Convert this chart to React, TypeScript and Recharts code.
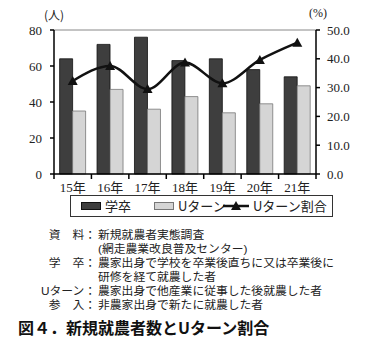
import React from 'react';
import {
  ComposedChart,
  Bar,
  Line,
  XAxis,
  YAxis,
  ReferenceLine,
} from 'recharts';

const years = ['15年', '16年', '17年', '18年', '19年', '20年', '21年'];
const gakusotsu = [64, 72, 76, 63, 64, 58, 54];
const uturn = [35, 47, 36, 43, 34, 39, 49];
const uturnRatio = [32.3, 37.5, 29.5, 38.7, 31.5, 39.6, 45.6];
const leftTicks = [0, 20, 40, 60, 80];
const rightTicks = [0, 10, 20, 30, 40, 50];

const notes = [
  { label: '資\u3000料：', text: '新規就農者実態調査' },
  { label: '', text: '(網走農業改良普及センター)' },
  { label: '学\u3000卒：', text: '農家出身で学校を卒業後直ちに又は卒業後に' },
  { label: '', text: '研修を経て就農した者' },
  { label: 'Uターン：', text: '農家出身で他産業に従事した後就農した者' },
  { label: '参\u3000入：', text: '非農家出身で新たに就農した者' },
];

const title = '図４．新規就農者数とUターン割合';

const data = years.map((year, i) => ({
  year,
  gakusotsu: gakusotsu[i],
  uturn: uturn[i],
  ratio: uturnRatio[i],
}));

const serif = '"Liberation Serif", "Noto Sans CJK JP", serif';
const jp = '"Noto Sans CJK JP", sans-serif';
// latin first so the notes keep a short line box, kanji fall back to Noto CJK
const notesFont = '"Liberation Sans", "Noto Sans CJK JP", sans-serif';

const Triangle = (props: any) => {
  const { cx, cy } = props;
  if (cx == null || cy == null) return null;
  return (
    <polygon
      points={`${cx},${cy - 5} ${cx - 5},${cy + 4} ${cx + 5},${cy + 4}`}
      fill="#111"
    />
  );
};

// ticks sit between the categories, like the original
const YearTick = (props: any) => {
  const { x, y, payload, index, width, visibleTicksCount } = props;
  const half = width && visibleTicksCount ? width / visibleTicksCount / 2 : 18.7;
  return (
    <g>
      <line x1={x - half} x2={x - half} y1={y - 9} y2={y - 4} stroke="#000" strokeWidth={1.5} />
      {index === visibleTicksCount - 1 && (
        <line x1={x + half} x2={x + half} y1={y - 9} y2={y - 4} stroke="#000" strokeWidth={1.5} />
      )}
      <text
        x={x}
        y={y}
        dy="0.71em"
        textAnchor="middle"
        fontSize={13}
        fontFamily={serif}
        fill="#222"
      >
        {payload.value}
      </text>
    </g>
  );
};

export default function App() {
  return (
    <div
      style={{
        position: 'absolute',
        left: 0,
        top: 0,
        width: 369,
        height: 353,
        background: '#fff',
        fontFamily: jp,
        color: '#222',
      }}
    >
      <div style={{ position: 'absolute', left: 44, top: 6, fontSize: 12, fontFamily: jp }}>(人)</div>
      <div style={{ position: 'absolute', left: 309, top: 6, fontSize: 12, fontFamily: serif }}>(%)</div>

      <ComposedChart
        width={369}
        height={200}
        data={data}
        margin={{ top: 30, right: 8, left: 10, bottom: 0 }}
        barGap={0}
        barCategoryGap="15%"
      >
        <XAxis
          dataKey="year"
          height={26}
          tickLine={false}
          tickSize={5}
          tickMargin={4}
          axisLine={{ stroke: '#000', strokeWidth: 1.5 }}
          tick={<YearTick />}
          interval={0}
        />
        <YAxis
          yAxisId="left"
          width={44}
          domain={[0, 80]}
          ticks={leftTicks}
          tickSize={4}
          tickMargin={8}
          axisLine={{ stroke: '#000', strokeWidth: 1.5 }}
          tickLine={{ stroke: '#000', strokeWidth: 1.5 }}
          tick={{ fontSize: 13, fontFamily: serif, fill: '#222' }}
        />
        <YAxis
          yAxisId="right"
          orientation="right"
          width={45}
          domain={[0, 50]}
          ticks={rightTicks}
          tickFormatter={(v: number) => v.toFixed(1)}
          tickSize={4}
          tickMargin={7}
          axisLine={{ stroke: '#000', strokeWidth: 1.5 }}
          tickLine={{ stroke: '#000', strokeWidth: 1.5 }}
          tick={{ fontSize: 13, fontFamily: serif, fill: '#222' }}
        />
        <ReferenceLine yAxisId="left" y={80} stroke="#888" strokeWidth={1} />
        <Bar
          yAxisId="left"
          dataKey="gakusotsu"
          fill="#3e3e3e"
          stroke="#111"
          strokeWidth={0.8}
          isAnimationActive={false}
        />
        <Bar
          yAxisId="left"
          dataKey="uturn"
          fill="#d5d5d5"
          stroke="#777"
          strokeWidth={0.8}
          isAnimationActive={false}
        />
        <Line
          yAxisId="right"
          dataKey="ratio"
          type="monotone"
          stroke="#111"
          strokeWidth={2.5}
          dot={<Triangle />}
          activeDot={false}
          isAnimationActive={false}
        />
      </ComposedChart>

      <div
        style={{
          position: 'absolute',
          left: 70,
          top: 195,
          width: 261,
          height: 20,
          border: '1px solid #333',
          fontSize: 13,
          lineHeight: '20px',
        }}
      >
        <span style={{ position: 'absolute', left: 10, top: 6, width: 20, height: 8, background: '#3e3e3e', border: '1px solid #111', boxSizing: 'border-box' }} />
        <span style={{ position: 'absolute', left: 34, top: 0 }}>学卒</span>
        <span style={{ position: 'absolute', left: 83, top: 6, width: 20, height: 8, background: '#d5d5d5', border: '1px solid #777', boxSizing: 'border-box' }} />
        <span style={{ position: 'absolute', left: 107, top: 0 }}>Uターン</span>
        <svg style={{ position: 'absolute', left: 152, top: 4 }} width={26} height={12}>
          <line x1={0} x2={26} y1={6} y2={6} stroke="#111" strokeWidth={2.5} />
          <polygon points="13,1 8,10 18,10" fill="#111" />
        </svg>
        <span style={{ position: 'absolute', left: 182, top: 0 }}>Uターン割合</span>
      </div>

      {notes.map((n, i) => (
        <div key={i} style={{ position: 'absolute', top: 228 + i * 14, left: 0, width: 369, height: 14, fontSize: 11.8, lineHeight: '14px', whiteSpace: 'nowrap', fontFamily: notesFont }}>
          <span style={{ position: 'absolute', left: 36, width: 60, textAlign: 'right' }}>{n.label}</span>
          <span style={{ position: 'absolute', left: 98 }}>{n.text}</span>
        </div>
      ))}

      <div
        style={{
          position: 'absolute',
          left: 18,
          top: 316,
          fontSize: 16,
          fontWeight: 'bold',
          lineHeight: '22px',
          whiteSpace: 'nowrap',
          color: '#111',
        }}
      >
        {title}
      </div>
    </div>
  );
}
